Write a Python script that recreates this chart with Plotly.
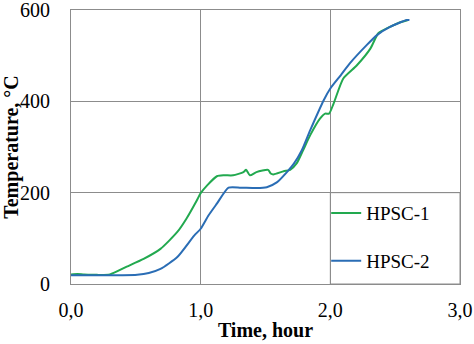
import plotly.graph_objects as go

# HPSC-1 (green)
t1 = [0, 0.05, 0.1, 0.2, 0.3, 0.43, 0.56, 0.69, 0.82, 0.89, 0.97, 1.0, 1.05, 1.125, 1.18, 1.25,
      1.33, 1.35, 1.38, 1.43, 1.52, 1.54, 1.56, 1.64, 1.69, 1.74, 1.79, 1.845, 1.92, 1.96, 1.99,
      2.025, 2.10, 2.205, 2.31, 2.37, 2.46, 2.53, 2.60]
T1 = [21, 22, 21, 20, 21, 38, 55, 77, 114, 143, 183, 199, 216, 236, 238, 238,
      245, 250, 238, 245, 250, 242, 240, 247, 250, 264, 293, 326, 362, 373, 373,
      395, 450, 479, 516, 549, 563, 572, 578]

# HPSC-2 (blue)
t2 = [0, 0.2, 0.4, 0.51, 0.6, 0.69, 0.82, 0.95, 1.0, 1.06, 1.125, 1.215, 1.31, 1.43, 1.51,
      1.59, 1.665, 1.72, 1.78, 1.845, 1.95, 2.0, 2.08, 2.15, 2.28, 2.36, 2.46, 2.59, 2.61]
T2 = [19, 19, 19, 20, 24, 33, 59, 106, 121, 150, 176, 211, 211, 210, 212,
      223, 245, 264, 293, 337, 403, 428, 457, 483, 523, 545, 563, 578, 578]

x_tickvals = [0, 1, 2, 3]
x_ticktext = ["0,0", "1,0", "2,0", "3,0"]
y_tickvals = [0, 200, 400, 600]

GREEN = "#22a94f"
BLUE = "#2a6db5"
GRID = "#8c8c8c"
FONT = "Liberation Serif"

fig = go.Figure()
fig.add_trace(go.Scatter(x=t1, y=T1, mode="lines", name="HPSC-1", legendgroup="a",
                         line=dict(color=GREEN, width=2, shape="spline", smoothing=0.6)))
fig.add_trace(go.Scatter(x=t2, y=T2, mode="lines", name="HPSC-2", legendgroup="b",
                         line=dict(color=BLUE, width=2, shape="spline", smoothing=0.6)))

# legend box (its left and top edges sit on grid lines)
fig.add_shape(type="rect", x0=2, x1=3, y0=0, y1=200, xref="x", yref="y",
              line=dict(color=GRID, width=1), fillcolor="white", layer="below")

fig.update_layout(
    width=474, height=344,
    margin=dict(l=71, r=14, t=10, b=60),
    paper_bgcolor="white", plot_bgcolor="white",
    font=dict(family=FONT, size=19, color="black"),
    showlegend=True,
    legend=dict(x=0.656, y=0.328, xanchor="left", yanchor="top",
                bgcolor="rgba(0,0,0,0)", itemwidth=30, tracegroupgap=20,
                traceorder="grouped", font=dict(family=FONT, size=19)),
    xaxis=dict(range=[0, 3], tickvals=x_tickvals, ticktext=x_ticktext,
               showgrid=True, gridcolor=GRID, gridwidth=1,
               showline=True, linecolor=GRID, linewidth=1, mirror=True,
               zeroline=False, ticks="outside", ticklen=8, tickcolor="rgba(0,0,0,0)",
               automargin=False, ticklabeloverflow="allow",
               tickfont=dict(family=FONT, size=20),
               title=dict(text="<b>Time, hour</b>", standoff=2,
                          font=dict(family=FONT, size=20))),
    yaxis=dict(range=[0, 600], tickvals=y_tickvals,
               showgrid=True, gridcolor=GRID, gridwidth=1,
               showline=True, linecolor=GRID, linewidth=1, mirror=True,
               zeroline=False, ticks="outside", ticklen=16, tickcolor="rgba(0,0,0,0)",
               automargin=False, ticklabeloverflow="allow",
               tickfont=dict(family=FONT, size=20),
               title=dict(text="<b>Temperature, °C</b>", standoff=6,
                          font=dict(family=FONT, size=20))),
    # overlay axes that only draw the top and right frame lines
    xaxis2=dict(range=[0, 3], overlaying="x", side="top", anchor="y",
                showline=True, linecolor=GRID, linewidth=1, showgrid=False,
                zeroline=False, showticklabels=False, ticks="", automargin=False),
    yaxis2=dict(range=[0, 600], overlaying="y", side="right", anchor="x",
                showline=True, linecolor=GRID, linewidth=1, showgrid=False,
                zeroline=False, showticklabels=False, ticks="", automargin=False),
)

fig.write_html("out.html", config={"displayModeBar": False},
               post_script="document.body.style.margin='0';")
